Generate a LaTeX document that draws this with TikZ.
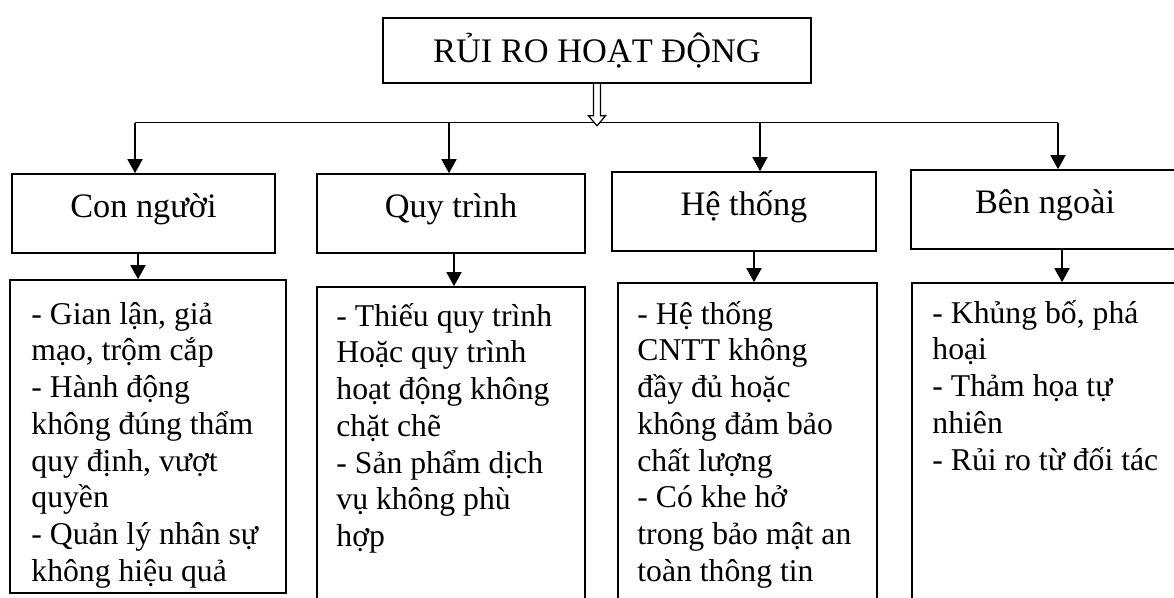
\documentclass[tikz,border=0pt]{standalone}
\usepackage{fontspec}
\setmainfont{Liberation Serif}
\usetikzlibrary{arrows.meta,calc}

\begin{document}
\begin{tikzpicture}[x=1pt,y=-1pt,
  box/.style={draw, line width=1.6pt, inner sep=0pt},
  titlebox/.style={box, minimum width=428pt, minimum height=65pt,
    font=\fontsize{34.4}{40}\selectfont, text height=24.4pt, text depth=0pt},
  catbox/.style={box, minimum height=79pt,
    font=\fontsize{34.3}{40}\selectfont, text height=24pt, text depth=17pt},
  % base anchor of a multi-line node sits on its last line
  listtext/.style={inner sep=0pt, align=left, anchor=base west,
    font=\fontsize{31.7}{36.7}\selectfont},
  link/.style={line width=1.5pt},
  feed/.style={line width=1.5pt, -{Triangle[width=15pt,length=14pt]}},
]
\useasboundingbox (0,0) rectangle (1174,597);
\clip (0,0) rectangle (1174,597);

% top level
\node[titlebox] (risk) at (597,50.5) {RỦI RO HOẠT ĐỘNG};

% the four categories
\node[catbox, minimum width=263pt] (c1) at (143.5,213.5) {Con người};
\node[catbox, minimum width=268pt] (c2) at (451,213.5) {Quy trình};
\node[catbox, minimum width=264pt] (c3) at (744,211.5) {Hệ thống};
\node[catbox, minimum width=268pt] (c4) at (1045,209.5) {Bên ngoài};

% detail boxes
\node[box, minimum width=276pt, minimum height=313pt] (d1) at (148,436.5) {};
\node[box, minimum width=268pt, minimum height=353pt] (d2) at (451,463.5) {};
\node[box, minimum width=259pt, minimum height=357pt] (d3) at (747.5,461.5) {};
\node[box, minimum width=268pt, minimum height=357pt] (d4) at (1046,461.5) {};

\node[listtext] (t1) at ([xshift=22pt,yshift=-301.9pt]d1.north west)
  {- Gian lận, giả\\mạo, trộm cắp\\- Hành động\\không đúng thẩm\\quy định, vượt\\quyền\\- Quản lý nhân sự\\không hiệu quả};
\node[listtext] (t2) at ([xshift=20pt,yshift=-260.2pt]d2.north west)
  {- Thiếu quy trình\\Hoặc quy trình\\hoạt động không\\chặt chẽ\\- Sản phẩm dịch\\vụ không phù\\hợp};
\node[listtext] (t3) at ([xshift=20pt,yshift=-298.9pt]d3.north west)
  {- Hệ thống\\CNTT không\\đầy đủ hoặc\\không đảm bảo\\chất lượng\\- Có khe hở\\trong bảo mật an\\toàn thông tin};
\node[listtext] (t4) at ([xshift=21pt,yshift=-187.8pt]d4.north west)
  {- Khủng bố, phá\\hoại\\- Thảm họa tự\\nhiên\\- Rủi ro từ đối tác};

% distribution line
\coordinate (b1) at (135,122.5);
\coordinate (b2) at (449,122.5);
\coordinate (b3) at (760,122.5);
\coordinate (b4) at (1058,122.5);
\draw[link] (b1) -- (b4);

% hollow arrow from the title
\draw[line width=1.2pt, fill=white, line join=miter]
  ($(risk.south)+(-3.5,0)$) -- ++(0,32) -- ++(-5,0)
  -- ($(risk.south)+(0,42)$)
  -- ($(risk.south)+(8.5,32)$) -- ++(-5,0) -- ($(risk.south)+(3.5,0)$);

% arrows to the categories
\draw[feed] (b1) -- (b1 |- c1.north);
\draw[feed] (b2) -- (b2 |- c2.north);
\draw[feed] (b3) -- (b3 |- c3.north);
\draw[feed] (b4) -- (b4 |- c4.north);

% arrows to the details
\draw[feed] ([xshift=-5.5pt]c1.south) -- ([xshift=-5.5pt]c1.south |- d1.north);
\draw[feed] ([xshift=3pt]c2.south) -- ([xshift=3pt]c2.south |- d2.north);
\draw[feed] ([xshift=10pt]c3.south) -- ([xshift=10pt]c3.south |- d3.north);
\draw[feed] ([xshift=17pt]c4.south) -- ([xshift=17pt]c4.south |- d4.north);
\end{tikzpicture}
\end{document}
